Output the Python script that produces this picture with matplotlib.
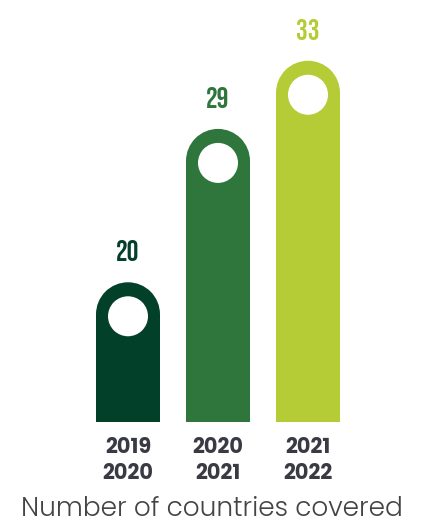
import matplotlib
matplotlib.use("Agg")
import matplotlib.pyplot as plt
from matplotlib.patches import Ellipse, Rectangle
from matplotlib.transforms import blended_transform_factory

seasons = ["2019\n2020", "2020\n2021", "2021\n2022"]
countries = [20, 29, 33]
colors = ["#03402a", "#2e763c", "#b5cc37"]

W, H, DPI = 421, 528, 100
fig = plt.figure(figsize=(W / DPI, H / DPI), dpi=DPI)

# axes spans pixel x 38..398 and y 0..422 (from top)
ax_left, ax_right, ax_base = 38, 398, 422
ax = fig.add_axes([ax_left / W, (H - ax_base) / H, (ax_right - ax_left) / W, ax_base / H])
ymin, px_per_unit = 11.8, 17.04
ax.set_xlim(-1, 3)
ax.set_ylim(ymin, ymin + ax_base / px_per_unit)
ax.axis("off")

px_x = (ax_right - ax_left) / 4.0
bar_w_px, r_in_px = 64, 20
bw = bar_w_px / px_x
ry = (bar_w_px / 2) / px_per_unit

num_font = ["Bebas Neue", "Oswald", "Roboto Condensed", "DejaVu Sans"]
for i, (v, c) in enumerate(zip(countries, colors)):
    # straight body + round cap
    ax.add_patch(Rectangle((i - bw / 2, ymin), bw, v - ry - ymin, color=c, lw=0))
    ax.add_patch(Ellipse((i, v - ry), bw, 2 * ry, color=c, lw=0))
    # white hole in the cap
    cy = v - ry - 2 / px_per_unit
    ax.add_patch(Ellipse((i, cy), 2 * r_in_px / px_x, 2 * r_in_px / px_per_unit,
                         color="white", lw=0))
    ax.annotate(str(v), (i, v), xytext=(0, 15), textcoords="offset points",
                ha="center", va="baseline", fontsize=21, fontweight="bold",
                color=c, family=num_font)

trans = blended_transform_factory(ax.transData, fig.transFigure)
for i, s in enumerate(seasons):
    ax.text(i, (H - 461) / H, s, transform=trans, ha="center", va="center",
            fontsize=15, fontweight="bold", color="#3a3a44", linespacing=1.25,
            family=["Poppins", "DejaVu Sans"])

fig.text(212 / W, (H - 509) / H, "Number of countries covered", ha="center",
         va="center", fontsize=19, fontweight=300, color="#444444",
         family=["Poppins", "Lato", "DejaVu Sans"])

fig.savefig("out.png", dpi=DPI)
